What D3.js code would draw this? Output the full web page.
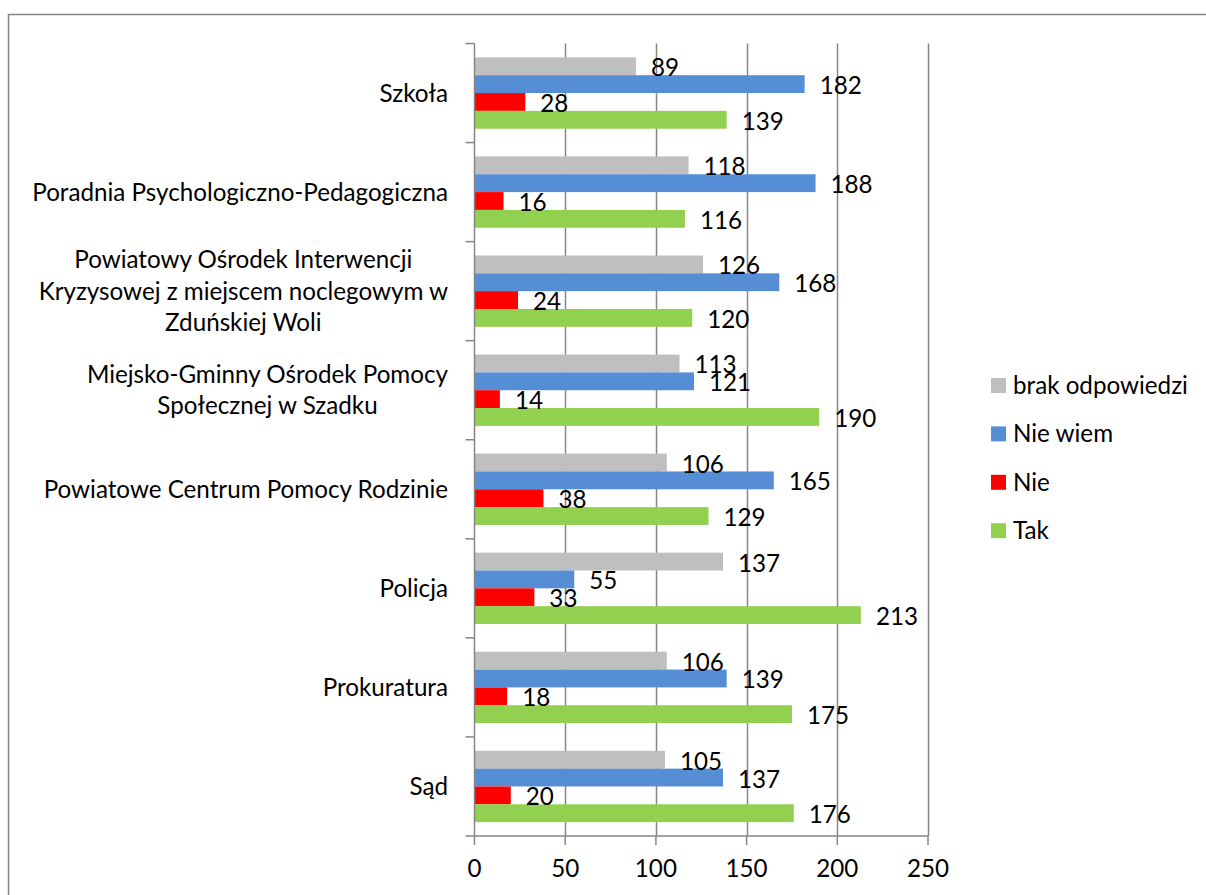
<!DOCTYPE html>
<html>
<head>
<meta charset="utf-8">
<script src="https://cdn.jsdelivr.net/npm/d3@7"></script>
<style>
  html, body { margin: 0; padding: 0; background: #fff; overflow: hidden; }
  svg text { font-family: Lato, "Open Sans", sans-serif; fill: #000; }
</style>
</head>
<body>
<div id="chart"></div>
<script>
'use strict';

// categories top to bottom, "\n" = line break as in the original labels
var categories = [
  "Szkoła",
  "Poradnia Psychologiczno-Pedagogiczna",
  "Powiatowy Ośrodek Interwencji\nKryzysowej z miejscem noclegowym w\nZduńskiej Woli",
  "Miejsko-Gminny Ośrodek Pomocy\nSpołecznej w Szadku",
  "Powiatowe Centrum Pomocy Rodzinie",
  "Policja",
  "Prokuratura",
  "Sąd"
];

var seriesNames = ["brak odpowiedzi", "Nie wiem", "Nie", "Tak"];
var seriesColors = ["#BFBFBF", "#558ED5", "#FF0000", "#92D050"];

var brakOdpowiedzi = [89, 118, 126, 113, 106, 137, 106, 105];
var nieWiem = [182, 188, 168, 121, 165, 55, 139, 137];
var nie = [28, 16, 24, 14, 38, 33, 18, 20];
var tak = [139, 116, 120, 190, 129, 213, 175, 176];

var xTicks = [0, 50, 100, 150, 200, 250];

var seriesValues = [brakOdpowiedzi, nieWiem, nie, tak];

var w = 1206;
var h = 895;
var fontSize = 24.2;
var plotLeft = 474.5;
var plotRight = 928;
var plotTop = 43.5;
var plotBottom = 836;
var tickLen = 9;
var labelRight = 448;
var gridColor = "#868686";

var svg = d3.select("#chart").append("svg")
  .attr("width", w)
  .attr("height", h);

// chart area frame (runs off the right and bottom edge)
svg.append("rect")
  .attr("x", 8.5)
  .attr("y", 14.5)
  .attr("width", 1400)
  .attr("height", 1000)
  .attr("fill", "#fff")
  .attr("stroke", gridColor)
  .attr("stroke-width", 1.5);

var x = d3.scaleLinear()
  .domain([0, 250])
  .range([plotLeft, plotRight]);

var y = d3.scaleBand()
  .domain(d3.range(categories.length))
  .range([plotTop, plotBottom])
  .paddingInner(0.28)
  .paddingOuter(0.14);

var ySeries = d3.scaleBand()
  .domain(d3.range(seriesNames.length))
  .range([0, y.bandwidth()]);

// vertical gridlines
svg.append("g")
  .selectAll("line")
  .data(xTicks.slice(1))
  .enter()
  .append("line")
  .attr("x1", function (d) { return Math.round(x(d)) + 0.5; })
  .attr("x2", function (d) { return Math.round(x(d)) + 0.5; })
  .attr("y1", plotTop)
  .attr("y2", plotBottom)
  .attr("stroke", gridColor)
  .attr("stroke-width", 1.5);

// bars
var groups = svg.append("g")
  .selectAll("g.category")
  .data(categories)
  .enter()
  .append("g")
  .attr("class", "category")
  .attr("transform", function (d, i) {
    return "translate(0," + y(i) + ")";
  });

groups.each(function (cat, ci) {
  var g = d3.select(this);
  var rows = seriesValues.map(function (vals, si) {
    return { si: si, value: vals[ci] };
  });

  g.selectAll("rect")
    .data(rows)
    .enter()
    .append("rect")
    .attr("x", x(0))
    .attr("y", function (d) { return ySeries(d.si); })
    .attr("width", function (d) { return x(d.value) - x(0); })
    .attr("height", ySeries.bandwidth())
    .attr("fill", function (d) { return seriesColors[d.si]; });

  g.selectAll("text.value")
    .data(rows)
    .enter()
    .append("text")
    .attr("class", "value")
    .attr("x", function (d) { return x(d.value) + 15; })
    .attr("y", function (d) { return ySeries(d.si) + ySeries.bandwidth() / 2 + 1.5; })
    .attr("dy", "0.35em")
    .style("font-size", fontSize + "px")
    .text(function (d) { return d.value; });
});

// axes: drawn by hand to get the Excel look
var axis = svg.append("g").attr("stroke", gridColor).attr("stroke-width", 1.5);

axis.append("line")
  .attr("x1", plotLeft)
  .attr("x2", plotLeft)
  .attr("y1", plotTop)
  .attr("y2", plotBottom);

var yTickPos = d3.range(categories.length).map(function (i) {
  return y(i) - y.step() * 0.14;
}).concat([plotBottom]);

axis.selectAll("line.ytick")
  .data(yTickPos)
  .enter()
  .append("line")
  .attr("class", "ytick")
  .attr("x1", plotLeft - tickLen)
  .attr("x2", plotLeft)
  .attr("y1", function (d) { return d; })
  .attr("y2", function (d) { return d; });

axis.append("line")
  .attr("x1", plotLeft)
  .attr("x2", plotRight)
  .attr("y1", plotBottom)
  .attr("y2", plotBottom);

axis.selectAll("line.xtick")
  .data(xTicks)
  .enter()
  .append("line")
  .attr("class", "xtick")
  .attr("x1", function (d) { return x(d); })
  .attr("x2", function (d) { return x(d); })
  .attr("y1", plotBottom)
  .attr("y2", plotBottom + tickLen);

svg.append("g")
  .selectAll("text")
  .data(xTicks)
  .enter()
  .append("text")
  .attr("x", function (d) { return x(d); })
  .attr("y", 877)
  .attr("text-anchor", "middle")
  .style("font-size", fontSize + "px")
  .text(function (d) { return d; });

// category labels: each block centred, block right-aligned
var lineHeight = 31.5;
svg.append("g")
  .selectAll("g.catLabel")
  .data(categories)
  .enter()
  .append("g")
  .attr("class", "catLabel")
  .each(function (d, i) {
    var g = d3.select(this);
    var lines = d.split("\n");
    var cy = y(i) + y.bandwidth() / 2;
    var top = cy - (lines.length - 1) * lineHeight / 2;
    var texts = g.selectAll("text")
      .data(lines)
      .enter()
      .append("text")
      .attr("y", function (l, j) { return top + j * lineHeight; })
      .attr("dy", "0.35em")
      .attr("text-anchor", "middle")
      .style("font-size", fontSize + "px")
      .text(function (l) { return l; });
    var maxW = 0;
    texts.each(function () {
      maxW = Math.max(maxW, this.getComputedTextLength());
    });
    texts.attr("x", labelRight - maxW / 2);
  });

// legend
var legend = svg.append("g")
  .selectAll("g.legendItem")
  .data(seriesNames)
  .enter()
  .append("g")
  .attr("class", "legendItem")
  .attr("transform", function (d, i) {
    return "translate(991," + (378 + i * 48.4) + ")";
  });

legend.append("rect")
  .attr("width", 15)
  .attr("height", 15)
  .attr("fill", function (d, i) { return seriesColors[i]; });

legend.append("text")
  .attr("x", 22)
  .attr("y", 7.5)
  .attr("dy", "0.35em")
  .style("font-size", fontSize + "px")
  .text(function (d) { return d; });
</script>
</body>
</html>
